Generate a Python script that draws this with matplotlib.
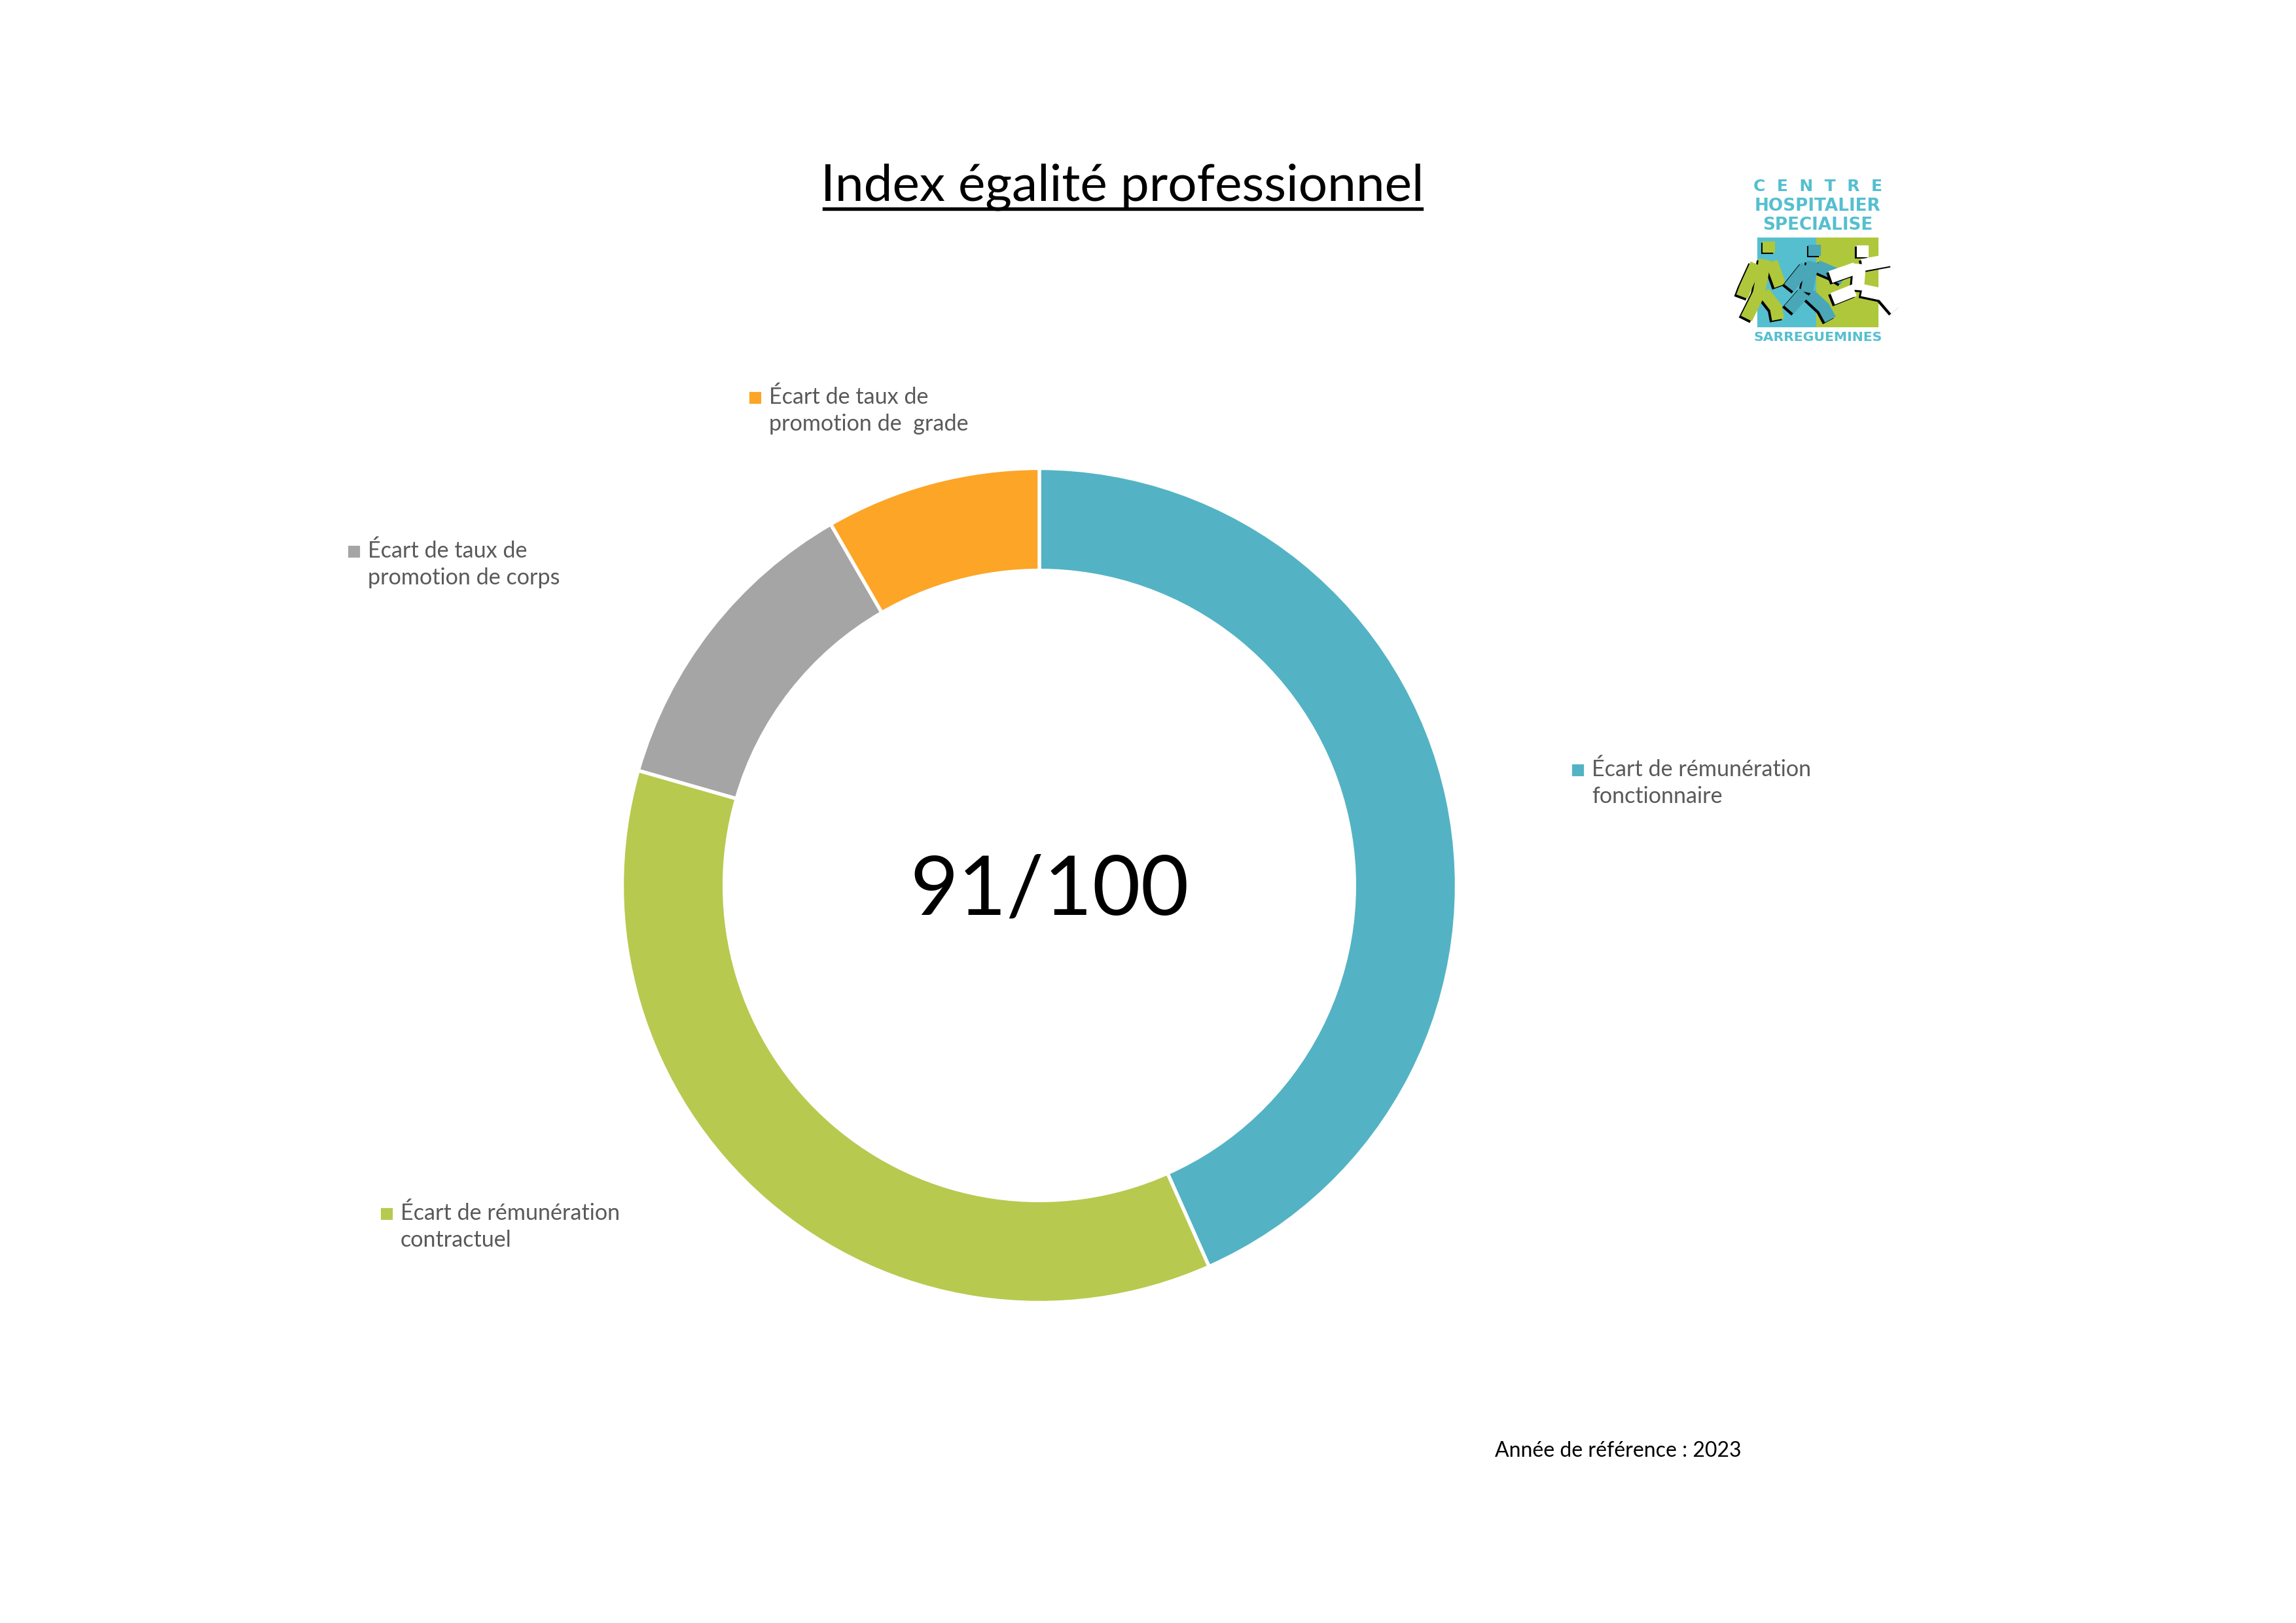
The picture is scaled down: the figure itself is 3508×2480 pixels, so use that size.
#Index egalite professionnel - donut chart

#import libraries
import matplotlib
matplotlib.use('Agg')
import matplotlib.pyplot as plt
from matplotlib.patches import Rectangle
from matplotlib import font_manager

#data
categories = ['Écart de rémunération\nfonctionnaire',
              'Écart de rémunération\ncontractuel',
              'Écart de taux de\npromotion de corps',
              'Écart de taux de\npromotion de  grade']
points = [39, 32.5, 11, 7.5]
colors = ['#53B3C4', '#B8C94F', '#A5A5A5', '#FDA527']
score_text = '91/100'
title_text = 'Index égalité professionnel'
year_text = 'Année de référence : 2023'

#figure size in pixels
W, H = 3508, 2480
plt.rcParams['font.family'] = ['Lato', 'DejaVu Sans']
fig = plt.figure(figsize=(W / 300, H / 300), dpi=300)

def px(x, y):
    #pixel position (from top left) to figure fraction
    return x / W, 1 - y / H

#donut, centre and radius measured on the picture
cx, cy, r = 1588, 1353, 637.5
ax = fig.add_axes([(cx - r) / W, (H - cy - r) / H, 2 * r / W, 2 * r / H])
ax.pie(points, colors=colors, startangle=90, counterclock=False, radius=1,
       wedgeprops=dict(width=0.245, edgecolor='white', linewidth=1.3))
ax.set_xlim(-1, 1)
ax.set_ylim(-1, 1)
ax.set_aspect('equal')
ax.axis('off')

#score in the middle
fig.text(*px(1604, 1362), score_text, fontsize=30.5, ha='center', va='center', color='black')

#title with underline
fig.text(*px(1715, 307), title_text, fontsize=18.8, ha='center', va='baseline', color='black')
fig.add_artist(plt.Line2D([1259 / W, 2172 / W], [1 - 319 / H, 1 - 319 / H],
                          color='black', linewidth=1.3, transform=fig.transFigure))

#labels with small coloured squares
label_pos = [(2411, 1177), (591, 1855), (541, 843), (1154, 608)]
for (lx, ly), text, col in zip(label_pos, categories, colors):
    fig.add_artist(Rectangle(px(lx - 7, ly + 7), 14 / W, 14 / H, color=col,
                             transform=fig.transFigure))
    fig.text(*px(lx + 21, ly - 18), text, fontsize=8.2, color='#595959',
             ha='left', va='top', linespacing=1.38)

#reference year
fig.text(*px(2284, 2217), year_text, fontsize=7.7, ha='left', va='center', color='black')

#logo (rough redraw)
names = {f.name for f in font_manager.fontManager.ttflist}
logo_font = 'DejaVu Sans Condensed' if 'DejaVu Sans Condensed' in names else 'DejaVu Sans'
lg = fig.add_axes([2600 / W, 1 - 540 / H, 360 / W, 300 / H])
lg.set_xlim(0, 1080)
lg.set_ylim(900, 0)
lg.axis('off')
cyan = '#55BFD0'
lgreen = '#AFC73A'
lg.add_patch(Rectangle((262, 375), 270, 400, color=cyan))
lg.add_patch(Rectangle((532, 375), 273, 400, color=lgreen))
lg.text(532, 134, 'C  E  N  T  R  E', fontsize=6.0, color=cyan, ha='center', va='center',
        fontweight='bold', family=logo_font)
lg.text(532, 226, 'HOSPITALIER', fontsize=6.3, color=cyan, ha='center', va='center',
        fontweight='bold', family=logo_font)
lg.text(532, 311, 'SPECIALISE', fontsize=6.3, color=cyan, ha='center', va='center',
        fontweight='bold', family=logo_font)
lg.text(532, 826, 'SARREGUEMINES', fontsize=4.9, color=cyan, ha='center', va='center',
        fontweight='bold', family=logo_font)

def runner(limbs, head, col):
    #limbs drawn as thick strokes with a black shadow
    for xs, ys in limbs:
        lg.plot([x - 10 for x in xs], [y + 8 for y in ys], color='black', lw=4.5,
                solid_capstyle='butt', solid_joinstyle='miter')
    for xs, ys in limbs:
        lg.plot(xs, ys, color=col, lw=4.5, solid_capstyle='butt', solid_joinstyle='miter')
    hx, hy = head
    lg.add_patch(Rectangle((hx - 22, hy - 22), 44, 40, color='black'))
    lg.add_patch(Rectangle((hx - 14, hy - 28), 44, 40, color=col))

runner([([290, 260], [470, 640]), ([250, 200, 185], [490, 600, 640]),
        ([320, 360], [480, 590]), ([265, 205], [620, 740]), ([285, 340, 350], [620, 690, 745])],
       (300, 420), '#AFC73A')
runner([([510, 480], [480, 620]), ([480, 400], [500, 600]), ([530, 600, 650], [500, 530, 560]),
        ([470, 400], [620, 700]), ([495, 560, 590], [630, 690, 745])],
       (510, 435), '#4AA7B8')
runner([([725, 715], [490, 610]), ([705, 590], [510, 550]), ([735, 870], [495, 470]),
        ([700, 600], [610, 650]), ([735, 830, 890], [610, 630, 700])],
       (730, 440), 'white')

plt.savefig('out.png', dpi=300, facecolor='white')
